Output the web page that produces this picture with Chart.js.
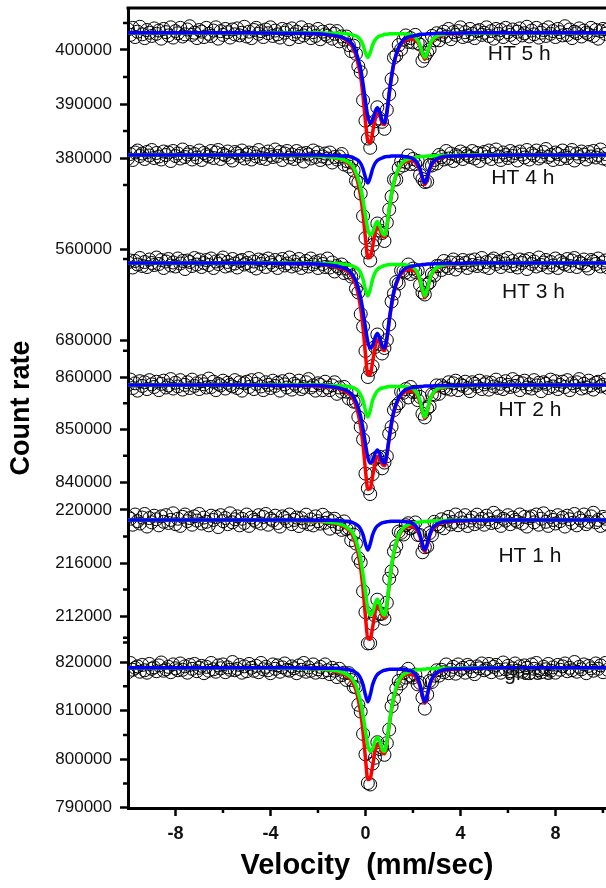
<!DOCTYPE html>
<html>
<head>
<meta charset="utf-8">
<script src="https://cdn.jsdelivr.net/npm/chart.js@4.4.1/dist/chart.umd.min.js"></script>
<style>
  html, body { margin: 0; padding: 0; background: #fff; overflow: hidden; }
  canvas { display: block; }
</style>
</head>
<body>
<canvas id="spectra" width="606" height="888"></canvas>
<script>
// velocity channels (mm/sec)
var velocity = [
  -10,-9.9,-9.8,-9.7,-9.6,-9.5,-9.4,-9.3,-9.2,-9.1,
  -9,-8.9,-8.8,-8.7,-8.6,-8.5,-8.4,-8.3,-8.2,-8.1,
  -8,-7.9,-7.8,-7.7,-7.6,-7.5,-7.4,-7.3,-7.2,-7.1,
  -7,-6.9,-6.8,-6.7,-6.6,-6.5,-6.4,-6.3,-6.2,-6.1,
  -6,-5.9,-5.8,-5.7,-5.6,-5.5,-5.4,-5.3,-5.2,-5.1,
  -5,-4.9,-4.8,-4.7,-4.6,-4.5,-4.4,-4.3,-4.2,-4.1,
  -4,-3.9,-3.8,-3.7,-3.6,-3.5,-3.4,-3.3,-3.2,-3.1,
  -3,-2.9,-2.8,-2.7,-2.6,-2.5,-2.4,-2.3,-2.2,-2.1,
  -2,-1.9,-1.8,-1.7,-1.6,-1.5,-1.4,-1.3,-1.2,-1.1,
  -1,-0.9,-0.8,-0.7,-0.6,-0.5,-0.4,-0.3,-0.2,-0.1,
  0,0.1,0.2,0.3,0.4,0.5,0.6,0.7,0.8,0.9,
  1,1.1,1.2,1.3,1.4,1.5,1.6,1.7,1.8,1.9,
  2,2.1,2.2,2.3,2.4,2.5,2.6,2.7,2.8,2.9,
  3,3.1,3.2,3.3,3.4,3.5,3.6,3.7,3.8,3.9,
  4,4.1,4.2,4.3,4.4,4.5,4.6,4.7,4.8,4.9,
  5,5.1,5.2,5.3,5.4,5.5,5.6,5.7,5.8,5.9,
  6,6.1,6.2,6.3,6.4,6.5,6.6,6.7,6.8,6.9,
  7,7.1,7.2,7.3,7.4,7.5,7.6,7.7,7.8,7.9,
  8,8.1,8.2,8.3,8.4,8.5,8.6,8.7,8.8,8.9,
  9,9.1,9.2,9.3,9.4,9.5,9.6,9.7,9.8,9.9,
  10,10.1,10.2
];

// velocities where the fitted curves are sampled (mm/sec)
var fitVelocity = [-10,-5,-3,-2,-1.5,-1.2,-1,-0.8,-0.6,-0.5,-0.4,-0.3,-0.2,-0.1,0,0.1,0.2,0.3,0.4,0.5,
  0.6,0.7,0.8,0.9,1,1.1,1.2,1.4,1.6,1.8,2,2.2,2.3,2.4,2.5,2.6,2.7,2.8,3,3.3,3.7,4.5,6,8,10.2];

var panelNames = ["HT 5 h", "HT 4 h", "HT 3 h", "HT 2 h", "HT 1 h", "glass"];

// all counts below are in thousands

// HT 5 h
var ht5Counts = [
  403.8,402.8,404.1,402.4,403.4,404.3,402.9,402.2,403.7,403.2,
  402.6,404.0,403.0,403.6,402.1,403.9,403.3,402.7,404.2,402.3,
  403.5,403.1,404.1,402.5,402.9,403.8,404.4,402.8,403.2,402.2,
  403.7,403.4,402.4,404.1,403.0,402.6,403.6,404.2,402.1,403.5,
  402.8,403.9,403.3,402.3,403.8,402.9,404.0,402.7,403.2,404.3,
  402.5,403.4,402.2,403.7,404.1,403.0,403.5,402.4,403.8,403.1,
  404.2,402.6,403.6,402.9,402.3,403.9,403.2,403.7,402.0,404.0,
  402.9,403.4,402.4,404.2,402.7,403.2,403.7,402.2,403.3,402.6,
  403.9,402.0,403.4,402.9,402.6,403.6,402.1,403.0,403.5,401.6,
  402.5,401.9,402.5,400.9,399.8,400.8,399.3,397.0,395.9,390.7,
  386.9,383.6,381.9,385.1,386.8,389.4,387.3,386.7,385.4,388.9,
  391.8,394.6,398.6,399.0,400.9,400.1,401.9,402.7,401.5,402.2,
  401.4,402.8,401.3,401.0,398.0,398.8,399.5,400.1,402.6,401.8,
  403.1,401.8,402.8,403.4,402.5,403.9,402.0,403.3,402.8,403.5,
  404.2,402.4,403.3,402.6,403.9,403.0,402.2,403.5,403.7,402.8,
  403.2,404.2,402.6,403.5,402.1,403.9,403.0,403.7,402.4,404.1,
  403.3,402.8,403.8,402.2,403.4,404.0,402.7,403.1,404.3,402.5,
  403.6,402.9,404.1,402.3,403.2,403.7,402.6,404.2,403.0,403.5,
  402.4,403.9,403.3,402.7,404.4,402.8,403.8,402.2,403.4,403.1,
  404.0,402.5,403.6,403.2,402.9,404.1,402.6,403.7,402.1,403.5,
  403.9,403.0,403.8
];
var ht5Total = [403.2,403.2,403.1,403.0,402.8,402.5,402.3,401.8,400.9,400.2,399.0,397.2,395.0,391.4,386.8,383.1,382.8,384.7,387.1,388.4,
  387.9,386.5,386.2,388.2,391.8,395.0,397.5,400.3,401.6,402.0,402.1,401.4,400.6,399.2,398.3,399.3,400.7,401.6,402.4,402.8,403.0,403.1,403.2,403.2,403.2];
var ht5Green = [403.2,403.2,403.2,403.2,403.1,403.1,403.1,403.0,402.9,402.7,402.6,402.3,401.8,400.9,399.5,398.6,399.5,400.9,401.8,402.3,
  402.6,402.7,402.9,402.9,403.0,403.0,403.0,403.0,403.0,402.9,402.7,401.8,400.9,399.5,398.6,399.5,400.9,401.8,402.6,402.9,403.1,403.1,403.2,403.2,403.2];
var ht5Blue = [403.2,403.2,403.1,403.0,402.8,402.6,402.4,402.0,401.3,400.7,399.6,398.2,396.4,393.7,390.5,387.7,386.5,387.0,388.5,389.3,
  388.5,387.0,386.5,388.5,392.0,395.2,397.7,400.5,401.9,402.4,402.6,402.8,402.9,402.9,402.9,403.0,403.0,403.0,403.1,403.1,403.1,403.2,403.2,403.2,403.2];

// HT 4 h
var ht4Counts = [
  578.1,579.0,577.8,579.3,579.7,578.6,579.1,578.0,579.4,578.7,
  579.8,578.2,579.2,578.5,577.9,579.5,578.8,579.3,577.6,579.6,
  578.6,579.1,578.1,579.9,578.4,578.9,579.4,577.9,579.0,578.3,
  579.7,577.8,579.2,578.8,578.5,579.6,578.2,579.3,579.8,578.0,
  579.0,578.7,579.5,578.3,577.7,579.4,579.1,578.6,579.7,578.1,
  578.9,579.3,577.9,579.2,578.5,579.8,578.2,579.0,578.0,579.5,
  578.8,578.4,579.9,578.6,579.4,577.8,579.1,579.6,578.3,578.9,
  578.0,579.6,578.6,579.1,577.5,579.2,578.9,578.1,579.7,578.4,
  579.3,577.8,578.5,579.1,578.1,579.3,577.3,578.4,577.9,578.5,
  579.0,576.9,577.6,576.5,577.3,575.7,573.7,573.3,571.1,566.6,
  562.2,559.3,557.7,560.8,561.9,565.1,563.7,563.2,561.6,565.3,
  567.9,570.5,573.9,573.9,576.2,577.5,576.7,577.4,578.7,577.0,
  578.0,577.0,577.6,574.8,574.0,573.4,573.5,576.8,576.7,577.8,
  577.1,578.8,578.4,577.9,579.6,578.1,579.1,577.6,578.8,578.5,
  579.5,578.0,579.1,578.7,578.4,579.6,578.1,579.2,577.6,579.0,
  579.4,578.4,579.7,578.0,579.0,579.9,578.5,577.8,579.3,578.8,
  578.2,579.6,578.6,579.2,577.7,579.5,578.9,578.3,579.8,577.9,
  579.1,578.7,579.7,578.1,578.5,579.4,580.0,578.4,578.8,577.8,
  579.3,579.0,578.0,579.7,578.6,578.2,579.2,579.8,577.7,579.1,
  578.4,579.5,578.9,577.9,579.4,578.5,579.6,578.3,578.8,579.9,
  578.1,579.0,577.8
];
var ht4Total = [578.8,578.8,578.7,578.6,578.4,578.1,577.9,577.4,576.5,575.8,574.6,572.9,570.5,566.9,562.2,558.3,558.3,560.5,563.0,564.4,
  563.9,562.7,562.4,564.4,567.8,570.9,573.3,576.0,577.2,577.6,577.6,576.7,575.7,574.0,572.9,574.1,575.8,576.9,577.9,578.4,578.6,578.7,578.8,578.8,578.8];
var ht4Green = [578.8,578.8,578.7,578.6,578.4,578.2,578.0,577.6,576.9,576.3,575.3,574.0,572.2,569.7,566.7,563.9,562.8,563.3,564.7,565.5,
  564.7,563.3,562.8,564.7,568.1,571.1,573.5,576.2,577.5,578.0,578.2,578.4,578.5,578.5,578.5,578.6,578.6,578.6,578.7,578.7,578.7,578.8,578.8,578.8,578.8];
var ht4Blue = [578.8,578.8,578.8,578.8,578.7,578.7,578.6,578.6,578.4,578.2,578.0,577.7,577.1,576.0,574.3,573.2,574.3,576.0,577.1,577.7,
  578.0,578.2,578.4,578.5,578.5,578.6,578.6,578.6,578.5,578.4,578.1,577.1,576.0,574.3,573.2,574.3,576.0,577.1,578.0,578.5,578.6,578.7,578.8,578.8,578.8];

// HT 3 h
var ht3Counts = [
  695.5,695.9,694.5,695.8,695.1,696.4,694.8,695.6,694.6,696.1,
  695.4,695.0,696.5,695.2,696.0,694.4,695.7,696.2,694.9,695.5,
  694.7,696.3,695.3,695.8,694.2,695.9,695.6,694.8,696.4,695.1,
  696.1,694.6,695.4,696.0,695.0,696.3,694.4,695.7,695.2,695.9,
  696.5,694.7,695.6,694.9,696.2,695.3,694.5,695.8,696.0,695.1,
  695.4,696.4,694.8,695.7,694.3,696.1,695.2,695.9,694.6,696.3,
  695.5,695.0,696.0,694.4,695.6,696.2,694.9,695.3,696.5,694.7,
  695.7,695.0,696.2,694.4,695.3,695.8,694.7,696.3,695.1,695.6,
  694.4,695.9,695.2,694.6,696.3,694.5,695.5,693.7,694.8,694.4,
  695.1,693.4,694.3,693.5,692.7,693.0,690.3,689.5,685.2,682.7,
  677.8,672.6,674.0,674.8,678.6,681.1,679.2,677.3,678.4,680.0,
  683.1,687.7,689.3,691.6,691.3,693.9,693.8,693.5,695.1,693.2,
  694.3,693.6,693.9,691.0,689.5,689.1,691.1,691.5,693.2,692.9,
  694.8,694.8,694.0,695.8,694.8,694.4,695.5,696.1,694.1,695.5,
  694.9,696.0,695.4,694.4,695.9,695.0,696.1,694.8,695.3,696.4,
  694.7,695.6,694.4,695.9,696.3,695.2,695.7,694.6,696.0,695.3,
  696.4,694.8,695.8,695.1,694.5,696.1,695.4,695.9,694.2,696.2,
  695.2,695.7,694.7,696.5,695.0,695.5,696.0,694.5,695.6,694.9,
  696.3,694.4,695.8,695.4,695.1,696.2,694.8,695.9,696.4,694.6,
  695.6,695.3,696.1,694.9,694.3,696.0,695.7,695.2,696.3,694.7,
  695.5,695.9,694.5
];
var ht3Total = [695.4,695.4,695.3,695.2,694.9,694.6,694.3,693.9,693.0,692.1,690.9,689.0,686.3,682.4,677.2,673.0,673.1,675.6,678.4,680.0,
  679.5,678.3,677.9,680.0,683.7,686.9,689.5,692.4,693.7,694.1,694.0,693.0,691.7,689.8,688.5,689.9,691.9,693.2,694.3,694.9,695.1,695.3,695.4,695.4,695.4];
var ht3Green = [695.4,695.4,695.4,695.3,695.3,695.3,695.2,695.1,694.9,694.7,694.5,694.1,693.4,692.1,690.1,688.8,690.1,692.1,693.4,694.1,
  694.5,694.7,694.9,695.0,695.1,695.1,695.1,695.1,695.1,694.9,694.6,693.4,692.1,690.1,688.8,690.1,692.1,693.4,694.5,695.0,695.2,695.3,695.4,695.4,695.4];
var ht3Blue = [695.4,695.4,695.3,695.2,695.0,694.8,694.5,694.2,693.4,692.7,691.8,690.3,688.4,685.7,682.5,679.6,678.4,678.9,680.4,681.3,
  680.4,678.9,678.4,680.4,684.0,687.2,689.8,692.7,694.0,694.6,694.8,695.0,695.0,695.1,695.1,695.2,695.2,695.2,695.3,695.3,695.3,695.4,695.4,695.4,695.4];

// HT 2 h
var ht2Counts = [
  858.5,859.5,857.9,858.8,857.4,859.2,858.3,859.0,857.7,859.4,
  858.6,858.1,859.1,857.5,858.7,859.3,858.0,858.4,859.6,857.8,
  858.9,858.2,859.4,857.6,858.5,859.0,857.9,859.5,858.3,858.8,
  857.7,859.2,858.6,858.0,859.7,858.1,859.1,857.5,858.7,858.4,
  859.3,857.8,858.9,858.5,858.2,859.4,857.9,859.0,857.4,858.8,
  859.1,858.1,859.4,857.7,858.7,859.6,858.2,857.5,859.0,858.5,
  857.9,859.3,858.3,858.9,857.4,859.2,858.6,858.0,859.5,857.6,
  858.7,858.3,859.3,857.7,858.1,859.0,859.6,858.0,858.4,857.4,
  858.8,858.5,857.5,859.1,858.0,857.5,858.4,859.0,856.8,858.0,
  857.2,858.1,857.2,855.9,857.0,855.3,855.3,852.4,850.5,848.1,
  841.6,838.8,837.7,841.5,844.4,844.7,844.8,842.6,843.7,844.9,
  849.2,850.5,853.7,854.5,855.0,857.2,857.0,857.7,856.1,858.1,
  857.1,857.2,855.6,856.2,853.0,852.3,854.0,854.4,856.7,856.6,
  858.4,856.8,858.4,858.0,857.8,859.0,857.6,858.8,859.3,857.5,
  858.6,858.3,859.1,857.9,857.3,859.0,858.7,858.2,859.3,857.7,
  858.6,859.0,857.6,858.9,858.2,859.5,857.9,858.7,857.7,859.2,
  858.5,858.1,859.6,858.3,859.1,857.5,858.8,859.3,858.0,858.6,
  857.8,859.4,858.4,858.9,857.3,859.0,858.7,857.9,859.5,858.2,
  859.2,857.7,858.5,859.1,858.1,859.4,857.5,858.8,858.3,859.0,
  859.6,857.8,858.7,858.0,859.3,858.4,857.6,858.9,859.1,858.2,
  858.5,859.5,857.9
];
var ht2Total = [858.5,858.5,858.4,858.3,858.1,857.9,857.6,857.1,856.4,855.6,854.5,852.9,850.5,847.0,842.3,838.6,838.7,841.0,843.5,844.9,
  844.5,843.4,843.1,845.0,848.2,851.1,853.3,855.9,857.0,857.3,857.3,856.3,855.1,853.4,852.2,853.4,855.3,856.5,857.5,858.0,858.3,858.4,858.5,858.5,858.5];
var ht2Green = [858.5,858.5,858.5,858.5,858.4,858.4,858.3,858.2,858.1,857.9,857.7,857.3,856.6,855.5,853.6,852.4,853.6,855.5,856.6,857.3,
  857.7,857.9,858.0,858.1,858.2,858.2,858.2,858.2,858.2,858.1,857.8,856.7,855.5,853.6,852.4,853.6,855.5,856.6,857.7,858.1,858.3,858.4,858.5,858.5,858.5];
var ht2Blue = [858.5,858.5,858.4,858.4,858.2,858.0,857.8,857.4,856.8,856.2,855.3,854.1,852.4,850.1,847.2,844.7,843.6,844.0,845.4,846.1,
  845.4,844.0,843.6,845.4,848.5,851.4,853.6,856.1,857.3,857.8,858.0,858.1,858.2,858.2,858.3,858.3,858.3,858.3,858.4,858.4,858.4,858.5,858.5,858.5,858.5];

// HT 1 h
var ht1Counts = [
  219.48,219.34,218.89,219.66,219.16,218.98,219.43,219.70,218.75,219.39,
  219.07,219.57,219.30,218.84,219.52,219.11,219.61,219.02,219.25,219.75,
  218.93,219.34,218.80,219.48,219.66,219.16,219.39,218.89,219.52,219.20,
  219.70,218.98,219.43,219.11,218.84,219.57,219.25,219.48,218.71,219.61,
  219.16,219.39,218.93,219.75,219.07,219.30,219.52,218.84,219.34,219.02,
  219.66,218.80,219.43,219.25,219.11,219.61,218.98,219.48,219.70,218.89,
  219.34,219.20,219.57,219.02,218.75,219.52,219.39,219.16,219.66,218.93,
  219.25,219.43,218.79,219.38,219.06,219.65,218.93,219.29,218.84,219.52,
  219.16,218.97,219.64,219.04,219.38,218.59,219.16,219.34,218.72,218.94,
  218.50,219.14,218.56,218.64,217.72,218.14,217.47,216.37,216.04,213.87,
  212.29,209.93,209.95,211.41,212.03,213.23,212.14,212.18,211.79,213.00,
  214.82,215.37,216.87,217.27,218.37,218.28,218.15,218.85,219.00,218.61,
  218.73,219.06,218.12,218.11,216.81,217.19,217.25,218.26,218.11,219.11,
  218.92,218.77,219.30,218.62,219.18,219.48,218.91,219.10,219.66,218.85,
  219.38,219.06,219.61,218.79,219.20,219.43,218.93,219.65,219.11,219.34,
  218.89,219.57,219.30,219.02,219.79,219.07,219.52,218.80,219.34,219.20,
  219.61,218.93,219.43,219.25,219.11,219.66,218.98,219.48,218.75,219.39,
  219.52,219.07,219.66,218.89,219.34,219.75,219.11,218.80,219.48,219.25,
  218.98,219.61,219.16,219.43,218.75,219.57,219.30,219.02,219.70,218.84,
  219.39,219.20,219.66,218.93,219.11,219.52,219.79,219.07,219.25,218.80,
  219.48,219.34,218.89
];
var ht1Total = [219.25,219.24,219.20,219.16,219.04,218.95,218.82,218.61,218.26,217.91,217.38,216.64,215.59,214.01,211.97,210.29,210.24,211.14,212.21,212.82,
  212.59,212.04,211.88,212.77,214.32,215.69,216.78,218.01,218.56,218.73,218.73,218.39,217.97,217.31,216.87,217.34,218.03,218.47,218.87,219.07,219.15,219.21,219.23,219.25,219.25];
var ht1Green = [219.25,219.24,219.21,219.18,219.07,219.00,218.89,218.71,218.42,218.14,217.70,217.09,216.29,215.14,213.78,212.55,212.05,212.27,212.91,213.27,
  212.91,212.27,212.05,212.91,214.43,215.79,216.87,218.10,218.67,218.89,219.00,219.07,219.10,219.12,219.13,219.15,219.16,219.17,219.19,219.21,219.22,219.24,219.24,219.25,219.25];
var ht1Blue = [219.25,219.25,219.24,219.23,219.22,219.20,219.18,219.15,219.09,219.02,218.93,218.80,218.55,218.12,217.44,216.99,217.44,218.12,218.55,218.80,
  218.93,219.02,219.08,219.11,219.14,219.15,219.16,219.16,219.14,219.09,218.98,218.57,218.12,217.44,216.99,217.44,218.12,218.55,218.93,219.11,219.18,219.22,219.24,219.25,219.25];

// glass
var glassCounts = [
  817.9,819.8,818.4,818.8,819.1,818.0,819.4,818.3,817.8,819.6,
  818.6,818.9,818.1,819.3,819.9,818.2,818.5,819.0,817.9,819.5,
  818.7,818.3,819.7,818.4,819.1,817.8,819.4,818.6,819.6,818.1,
  818.8,819.2,817.7,819.0,818.2,819.8,818.5,818.0,819.3,818.7,
  819.5,817.9,818.9,818.4,820.0,818.3,818.6,819.4,817.8,819.1,
  818.1,819.6,818.8,818.2,819.2,817.9,819.8,818.5,819.0,818.3,
  817.7,819.5,818.6,819.3,818.0,818.9,819.7,818.4,818.2,819.1,
  818.7,817.7,819.3,818.4,819.8,818.0,818.9,818.2,819.5,817.8,
  818.5,819.0,817.9,819.5,818.3,817.5,818.8,818.2,816.9,818.6,
  817.3,817.8,816.3,817.7,816.3,814.9,814.8,811.2,809.8,805.2,
  801.0,795.1,794.8,799.1,800.3,803.5,802.1,802.4,800.9,803.3,
  806.1,810.9,812.4,814.5,816.1,815.6,817.7,816.8,818.6,817.2,
  816.8,817.4,815.4,815.7,812.7,810.4,813.3,816.1,815.9,817.2,
  818.3,817.2,818.4,817.9,819.5,817.7,818.4,819.0,817.6,819.5,
  818.4,818.8,817.8,819.4,819.0,818.1,817.5,819.1,818.7,819.7,
  818.3,818.6,819.6,817.9,819.0,819.4,818.4,817.8,819.9,818.5,
  819.2,818.1,818.7,819.7,818.2,819.1,818.0,819.3,818.8,817.7,
  819.5,818.6,819.8,818.3,817.9,819.0,818.5,819.6,818.2,818.9,
  817.8,819.4,818.4,819.1,819.7,818.1,818.8,818.3,820.0,818.0,
  819.0,818.5,819.5,817.7,819.2,818.7,818.2,819.7,818.6,819.3,
  817.9,819.8,818.4
];
var glassTotal = [818.8,818.8,818.7,818.6,818.3,818.0,817.7,817.2,816.3,815.4,814.2,812.2,809.6,805.5,800.2,795.8,796.0,798.6,801.5,803.1,
  802.7,801.4,801.1,803.2,806.9,810.2,812.8,815.8,817.1,817.5,817.4,816.3,814.9,812.9,811.5,813.0,815.1,816.4,817.7,818.3,818.5,818.7,818.7,818.8,818.8];
var glassGreen = [818.8,818.8,818.7,818.6,818.4,818.2,817.9,817.5,816.8,816.1,815.2,813.6,811.7,809.0,805.8,802.8,801.6,802.1,803.7,804.5,
  803.7,802.1,801.6,803.7,807.3,810.5,813.1,816.1,817.4,817.9,818.2,818.4,818.4,818.5,818.5,818.6,818.6,818.6,818.7,818.7,818.7,818.8,818.8,818.8,818.8];
var glassBlue = [818.8,818.8,818.8,818.7,818.7,818.7,818.6,818.5,818.3,818.1,817.8,817.4,816.6,815.3,813.2,811.8,813.2,815.3,816.6,817.4,
  817.8,818.1,818.3,818.4,818.5,818.5,818.5,818.5,818.5,818.3,818.0,816.7,815.3,813.2,811.8,813.2,815.3,816.6,817.8,818.4,818.6,818.7,818.8,818.8,818.8];

// y tick labels of each panel (thousands)
var ht5Ticks = [400, 390, 380],  ht5Minor = [405, 395, 385, 375];
var ht4Ticks = [560],            ht4Minor = [558];
var ht3Ticks = [680],            ht3Minor = [];
var ht2Ticks = [860, 850, 840],  ht2Minor = [865, 855, 845];
var ht1Ticks = [220, 216, 212],  ht1Minor = [218, 214, 210];
var glassTicks = [820, 810, 800, 790], glassMinor = [825, 815, 805, 795];

var xTicks = [-8, -4, 0, 4, 8];
var xMinor = [-6, -2, 2, 6, 10];

// ---- layout: where each panel sits on the shared y axis (0..800) ----
// [count at anchor, axis value at anchor, axis units per 1000 counts]
var panelScale = [[400, 758, 5.4], [560, 559, 5.0], [680, 468, 5.0], [860, 431, 5.25], [220, 298, 13.25], [820, 146, 4.86]];
// panel caption: [velocity, axis value]
var captionAt = [[5.15, 754], [5.3, 630], [5.75, 516], [5.6, 398], [5.6, 252], [5.85, 134]];

var panels = [
  { counts: ht5Counts, total: ht5Total, green: ht5Green, blue: ht5Blue, ticks: ht5Ticks, minor: ht5Minor },
  { counts: ht4Counts, total: ht4Total, green: ht4Green, blue: ht4Blue, ticks: ht4Ticks, minor: ht4Minor },
  { counts: ht3Counts, total: ht3Total, green: ht3Green, blue: ht3Blue, ticks: ht3Ticks, minor: ht3Minor },
  { counts: ht2Counts, total: ht2Total, green: ht2Green, blue: ht2Blue, ticks: ht2Ticks, minor: ht2Minor },
  { counts: ht1Counts, total: ht1Total, green: ht1Green, blue: ht1Blue, ticks: ht1Ticks, minor: ht1Minor },
  { counts: glassCounts, total: glassTotal, green: glassGreen, blue: glassBlue, ticks: glassTicks, minor: glassMinor }
];

function toAxis(p, k) {
  var s = panelScale[p];
  return s[1] + (k - s[0]) * s[2];
}

var yMajor = [];
var yMinor = [];
var datasets = [];

panels.forEach(function (p, i) {
  p.ticks.forEach(function (t) {
    yMajor.push({ value: toAxis(i, t), label: String(Math.round(t * 1000)) });
  });
  p.minor.forEach(function (t) {
    yMinor.push(toAxis(i, t));
  });

  datasets.push({
    data: velocity.map(function (v, j) { return { x: v, y: toAxis(i, p.counts[j]) }; }),
    showLine: false,
    pointRadius: 6.5,
    pointBorderWidth: 1,
    pointBorderColor: "#000",
    pointBackgroundColor: "rgba(255,255,255,0)",
    order: 3
  });
  var fits = [[p.total, "#ff0000", 2], [p.green, "#00ff00", 1], [p.blue, "#0000ff", 0]];
  fits.forEach(function (f) {
    datasets.push({
      data: fitVelocity.map(function (v, j) { return { x: v, y: toAxis(i, f[0][j]) }; }),
      borderColor: f[1],
      borderWidth: 3.5,
      pointRadius: 0,
      fill: false,
      cubicInterpolationMode: "monotone",
      order: f[2]
    });
  });
});

var extras = {
  id: "extras",
  afterDraw: function (chart) {
    var ctx = chart.ctx;
    var area = chart.chartArea;
    var xs = chart.scales.x;
    var ys = chart.scales.y;
    ctx.save();
    ctx.strokeStyle = "#000";
    ctx.lineWidth = 2.5;
    ctx.beginPath();
    yMinor.forEach(function (v) {
      var py = ys.getPixelForValue(v);
      ctx.moveTo(area.left - 5, py);
      ctx.lineTo(area.left, py);
    });
    xMinor.forEach(function (v) {
      var px = xs.getPixelForValue(v);
      ctx.moveTo(px, area.bottom);
      ctx.lineTo(px, area.bottom + 5);
    });
    ctx.stroke();
    ctx.lineWidth = 3;
    ctx.beginPath();
    ctx.moveTo(area.left - 1.5, area.top);
    ctx.lineTo(area.right, area.top);
    ctx.stroke();

    ctx.fillStyle = "#111";
    ctx.font = '21px "Liberation Sans", Arial, sans-serif';
    ctx.textBaseline = "middle";
    ctx.textAlign = "left";
    panelNames.forEach(function (name, i) {
      ctx.fillText(name, xs.getPixelForValue(captionAt[i][0]), ys.getPixelForValue(captionAt[i][1]));
    });
    ctx.restore();
  }
};

// drop the automatic room Chart.js keeps for end labels
function noEdgePadding(s) {
  s.paddingTop = 0;
  s.paddingBottom = 0;
  s.paddingLeft = 0;
  s.paddingRight = 0;
}

Chart.defaults.font.family = '"Liberation Sans", Arial, sans-serif';
Chart.defaults.color = "#000";

new Chart(document.getElementById("spectra").getContext("2d"), {
  type: "line",
  data: { datasets: datasets },
  options: {
    responsive: false,
    animation: false,
    events: [],
    layout: { autoPadding: false, padding: { top: 8, right: 0, left: 0, bottom: 0 } },
    plugins: { legend: { display: false }, tooltip: { enabled: false } },
    scales: {
      x: {
        type: "linear",
        min: -10,
        max: 10.13,
        afterBuildTicks: function (s) { s.ticks = xTicks.map(function (v) { return { value: v }; }); },
        afterFit: function (s) { s.height = 80; noEdgePadding(s); },
        ticks: { padding: 7, color: "#111", font: { size: 18, weight: "bold" }, callback: function (v) { return String(v); } },
        grid: { drawOnChartArea: false, tickLength: 8, tickWidth: 2.5, tickColor: "#000" },
        border: { width: 3, color: "#000" },
        title: { display: true, text: "Velocity  (mm/sec)", color: "#000", font: { size: 29, weight: "bold" }, padding: { top: 0, bottom: 5 } }
      },
      y: {
        type: "linear",
        min: 0,
        max: 800,
        afterBuildTicks: function (s) { s.ticks = yMajor.map(function (t) { return { value: t.value }; }); },
        afterFit: function (s) { s.width = 128; noEdgePadding(s); },
        ticks: { autoSkip: false, padding: 8, color: "#111", font: { size: 17 }, callback: function (v, i) { return yMajor[i].label; } },
        grid: { drawOnChartArea: false, tickLength: 8, tickWidth: 2.5, tickColor: "#000" },
        border: { width: 3, color: "#000" },
        title: { display: true, text: "Count rate", color: "#000", font: { size: 27, weight: "bold" }, padding: { top: 5, bottom: 0 } }
      }
    }
  },
  plugins: [extras]
});
</script>
</body>
</html>
